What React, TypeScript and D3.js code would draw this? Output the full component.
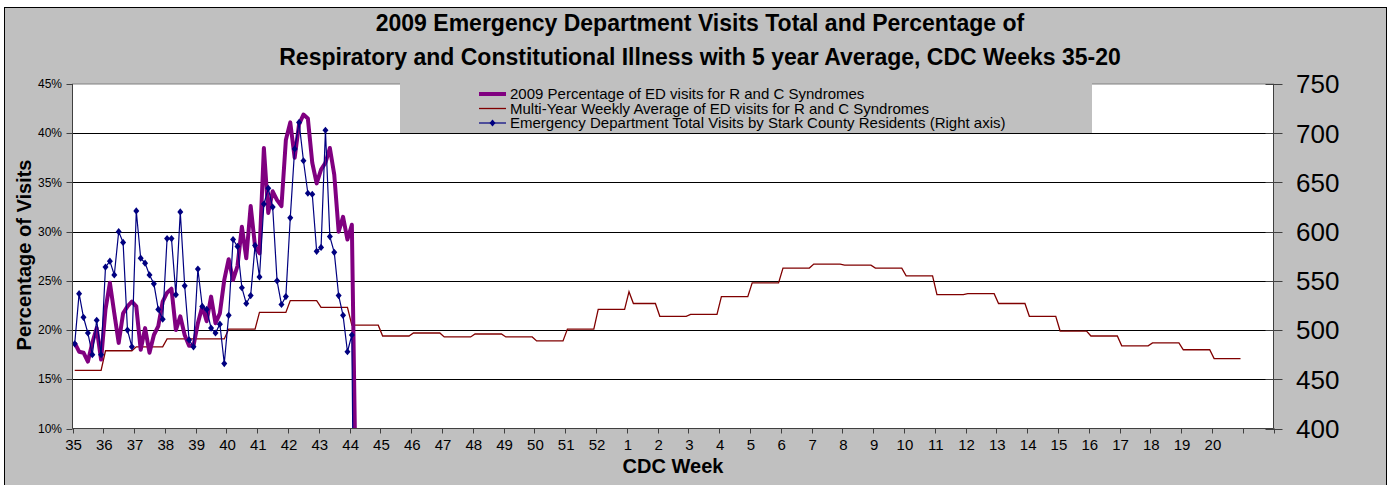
import * as d3 from "d3";

// CDC week labels on the category axis (one tick per week)
const weekLabels = [
  "35", "36", "37", "38", "39", "40", "41", "42", "43", "44", "45", "46",
  "47", "48", "49", "50", "51", "52", "1", "2", "3", "4", "5", "6", "7",
  "8", "9", "10", "11", "12", "13", "14", "15", "16", "17", "18", "19", "20",
];

// 2009 daily percentage of ED visits for R and C syndromes (left axis)
const pctDaily = [
  18.7, 17.8, 17.7, 16.8, 18.7, 20.2, 17.0, 22.1, 24.8, 21.7, 18.7, 21.7,
  22.4, 22.9, 22.4, 18.0, 20.2, 17.7, 19.5, 20.4, 22.9, 23.8, 24.2, 20.0,
  21.4, 19.5, 18.4, 18.4, 20.7, 22.4, 20.9, 23.4, 20.7, 21.7, 25.1, 27.2,
  25.1, 26.5, 30.5, 27.3, 32.6, 28.5, 27.8, 38.5, 31.9, 34.1, 33.2, 32.6,
  39.3, 41.1, 37.5, 40.9, 41.9, 41.5, 37.0, 34.9, 36.3, 37.0, 38.5, 35.8,
  30.0, 31.5, 29.2, 30.7, 0,
];

// daily ED total visits by Stark County residents (right axis)
const visitsDaily = [
  486, 537, 513, 497, 475, 510, 475, 564, 570, 556, 600, 589, 500, 483,
  621, 573, 568, 556, 547, 521, 511, 593, 593, 536, 620, 545, 490, 483,
  562, 524, 521, 502, 497, 506, 466, 515, 592, 585, 543, 527, 535, 586,
  554, 628, 644, 625, 550, 526, 534, 614, 684, 711, 672, 639, 638, 580,
  584, 703, 595, 579, 535, 515, 478, 495, 0,
];

// multi-year weekly average percentage (one value per CDC week)
const avgWeekly = [
  15.9, 17.9, 18.3, 19.1, 19.1, 20.1, 21.8, 23.0, 22.3, 20.5, 19.4, 19.7,
  19.3, 19.6, 19.3, 18.9, 20.1, 22.1, 22.7, 21.4, 21.6, 23.4, 24.8, 26.3,
  26.7, 26.6, 26.3, 25.5, 23.6, 23.7, 22.7, 21.4, 19.9, 19.4, 18.4, 18.7,
  18.0, 17.1,
];
// the average line has a one-day spike on the first day of week 1
const avgSpike = { week: "1", value: 23.9 };

const pctTicks = [10, 15, 20, 25, 30, 35, 40, 45];
const visitTicks = [400, 450, 500, 550, 600, 650, 700, 750];

const legendItems = [
  "2009 Percentage of ED visits for R and C Syndromes",
  "Multi-Year Weekly Average of ED visits for R and C Syndromes",
  "Emergency Department Total Visits by Stark County Residents (Right axis)",
];

const width = 1395;
const height = 485;
const plot = { left: 72.5, right: 1273.5, top: 84, bottom: 428.5 };
const daysOnAxis = (weekLabels.length + 1) * 7;
const font = '"Liberation Sans", Arial, Helvetica, sans-serif';
const diamond = "M0,-3.6L3,0L0,3.6L-3,0Z";

function App() {
  const x = d3
    .scaleLinear()
    .domain([0, daysOnAxis])
    .range([plot.left, plot.right]);
  const yPct = d3
    .scaleLinear()
    .domain([10, 45])
    .range([plot.bottom, plot.top]);
  const yVis = d3
    .scaleLinear()
    .domain([400, 750])
    .range([plot.bottom, plot.top]);

  const pctLine = d3
    .line<number>()
    .x((_, i) => x(i + 0.5))
    .y((d) => yPct(d));
  const visLine = d3
    .line<number>()
    .x((_, i) => x(i + 0.5))
    .y((d) => yVis(d));

  const avgPts: [number, number][] = [];
  avgWeekly.forEach((v, j) => {
    const start = j * 7;
    if (weekLabels[j] === avgSpike.week) {
      avgPts.push([start + 0.5, avgSpike.value]);
      avgPts.push([start + 1.5, v]);
    } else {
      avgPts.push([start + 0.5, v]);
    }
    avgPts.push([start + 6.5, v]);
  });
  const avgLine = d3
    .line<[number, number]>()
    .x((d) => x(d[0]))
    .y((d) => yPct(d[1]));

  const weekTicks = d3.range(0, daysOnAxis + 1, 7);
  const snap = (v: number) => Math.round(v) + 0.5;

  return (
    <svg
      width={width}
      height={height}
      fontFamily={font}
      style={{ position: "absolute", left: 0, top: 0, display: "block" }}
    >
      <defs>
        <clipPath id="plotClip">
          <rect
            x={plot.left}
            y={plot.top}
            width={plot.right - plot.left}
            height={plot.bottom - plot.top}
          />
        </clipPath>
      </defs>
      <rect width={width} height={height} fill="#fff" />
      <rect
        x={4.5}
        y={7.5}
        width={1382}
        height={500}
        fill="#c0c0c0"
        stroke="#000"
      />

      <text x={700} y={31} fontSize={23} fontWeight={700} textAnchor="middle">
        2009 Emergency Department Visits Total and Percentage of
      </text>
      <text x={700} y={65} fontSize={23} fontWeight={700} textAnchor="middle">
        Respiratory and Constitutional Illness with 5 year Average, CDC Weeks
        35-20
      </text>

      <rect
        x={plot.left}
        y={plot.top}
        width={plot.right - plot.left}
        height={plot.bottom - plot.top}
        fill="#fff"
        stroke="#808080"
      />

      {pctTicks.slice(1, -1).map((t) => (
        <line
          key={t}
          x1={plot.left}
          x2={plot.right}
          y1={snap(yPct(t))}
          y2={snap(yPct(t))}
          stroke="#000"
        />
      ))}

      <g clipPath="url(#plotClip)">
        <path
          d={avgLine(avgPts) ?? ""}
          fill="none"
          stroke="#800000"
          strokeWidth={1.3}
        />
        <path
          d={pctLine(pctDaily) ?? ""}
          fill="none"
          stroke="#800080"
          strokeWidth={4}
          strokeLinejoin="round"
        />
        <path
          d={visLine(visitsDaily) ?? ""}
          fill="none"
          stroke="#000080"
          strokeWidth={1.2}
        />
      </g>
      {visitsDaily.map((v, i) =>
        v >= 400 ? (
          <path
            key={i}
            d={diamond}
            transform={`translate(${x(i + 0.5)},${yVis(v)})`}
            fill="#000080"
          />
        ) : null,
      )}

      {/* left axis */}
      <line
        x1={plot.left}
        x2={plot.left}
        y1={plot.top}
        y2={plot.bottom}
        stroke="#404040"
      />
      {pctTicks.map((t) => (
        <g key={t}>
          <line
            x1={plot.left - 6}
            x2={plot.left}
            y1={snap(yPct(t))}
            y2={snap(yPct(t))}
            stroke="#404040"
          />
          <text
            x={62}
            y={yPct(t)}
            dy="0.35em"
            fontSize={12}
            textAnchor="end"
          >
            {t}%
          </text>
        </g>
      ))}
      <text
        transform={`translate(31,255) rotate(-90)`}
        fontSize={20}
        fontWeight={700}
        textAnchor="middle"
      >
        Percentage of Visits
      </text>

      {/* right axis */}
      <line
        x1={plot.right}
        x2={plot.right}
        y1={plot.top}
        y2={plot.bottom}
        stroke="#404040"
      />
      {visitTicks.map((t) => (
        <g key={t}>
          <line
            x1={plot.right - 8}
            x2={plot.right + 9}
            y1={snap(yVis(t))}
            y2={snap(yVis(t))}
            stroke="#404040"
          />
          <text x={1296} y={yVis(t)} dy="0.36em" fontSize={26}>
            {t}
          </text>
        </g>
      ))}

      {/* bottom axis */}
      <line
        x1={plot.left}
        x2={plot.right}
        y1={plot.bottom}
        y2={plot.bottom}
        stroke="#404040"
      />
      {weekTicks.map((d) => (
        <line
          key={d}
          x1={snap(x(d))}
          x2={snap(x(d))}
          y1={plot.bottom}
          y2={plot.bottom + 5}
          stroke="#404040"
        />
      ))}
      {weekLabels.map((w, j) => (
        <text
          key={j}
          x={x(j * 7) + 1}
          y={450}
          fontSize={15}
          textAnchor="middle"
        >
          {w}
        </text>
      ))}
      <text x={673} y={473} fontSize={20} fontWeight={700} textAnchor="middle">
        CDC Week
      </text>

      {/* legend */}
      <rect x={400} y={80} width={692} height={53} fill="#c0c0c0" />
      {legendItems.map((label, i) => {
        const ly = 94 + i * 14.5;
        return (
          <g key={label}>
            <line
              x1={479}
              x2={506}
              y1={ly}
              y2={ly}
              stroke={["#800080", "#800000", "#000080"][i]}
              strokeWidth={[4, 1.3, 1.2][i]}
            />
            {i === 2 && (
              <path
                d={diamond}
                transform={`translate(492.5,${ly})`}
                fill="#000080"
              />
            )}
            <text x={510} y={ly} dy="0.36em" fontSize={15}>
              {label}
            </text>
          </g>
        );
      })}
    </svg>
  );
}

export default App;
